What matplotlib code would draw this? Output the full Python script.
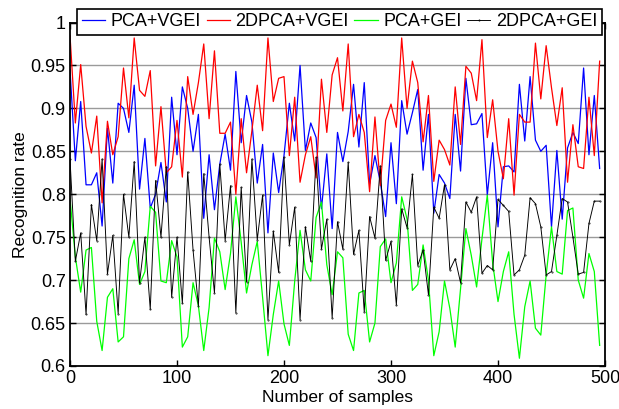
import numpy as np
import matplotlib
matplotlib.use("Agg")
import matplotlib.pyplot as plt
from matplotlib.ticker import FixedLocator

plt.rcParams['font.family'] = ['Liberation Sans', 'DejaVu Sans']

# Sample index (one test every 5 samples)
samples = list(range(0, 500, 5))

pca_vgei = [
    0.945, 0.839, 0.908, 0.811, 0.811, 0.825, 0.763, 0.877, 0.813, 0.906,
    0.900, 0.872, 0.927, 0.806, 0.865, 0.784, 0.800, 0.837, 0.791, 0.913,
    0.846, 0.925, 0.900, 0.850, 0.893, 0.772, 0.846, 0.782, 0.835, 0.870,
    0.828, 0.943, 0.860, 0.915, 0.884, 0.813, 0.858, 0.755, 0.848, 0.802,
    0.845, 0.906, 0.862, 0.950, 0.851, 0.883, 0.866, 0.783, 0.847, 0.760,
    0.872, 0.838, 0.873, 0.928, 0.855, 0.930, 0.812, 0.845, 0.814, 0.774,
    0.860, 0.789, 0.909, 0.870, 0.895, 0.922, 0.828, 0.893, 0.778, 0.823,
    0.813, 0.795, 0.893, 0.827, 0.935, 0.881, 0.882, 0.894, 0.799, 0.860,
    0.762, 0.832, 0.833, 0.826, 0.928, 0.862, 0.937, 0.863, 0.850, 0.857,
    0.762, 0.851, 0.771, 0.854, 0.872, 0.859, 0.947, 0.846, 0.915, 0.830,
]

dpca2_vgei = [
    0.985, 0.883, 0.951, 0.879, 0.848, 0.891, 0.790, 0.885, 0.846, 0.867,
    0.947, 0.889, 0.982, 0.921, 0.914, 0.944, 0.833, 0.902, 0.825, 0.832,
    0.886, 0.820, 0.937, 0.893, 0.930, 0.975, 0.888, 0.967, 0.871, 0.871,
    0.884, 0.800, 0.888, 0.825, 0.874, 0.927, 0.874, 0.982, 0.908, 0.935,
    0.937, 0.845, 0.913, 0.814, 0.846, 0.867, 0.819, 0.934, 0.872, 0.939,
    0.959, 0.897, 0.975, 0.867, 0.893, 0.872, 0.803, 0.890, 0.810, 0.886,
    0.905, 0.878, 0.982, 0.900, 0.955, 0.930, 0.861, 0.915, 0.815, 0.863,
    0.852, 0.834, 0.925, 0.858, 0.949, 0.941, 0.909, 0.980, 0.866, 0.910,
    0.850, 0.818, 0.888, 0.799, 0.893, 0.884, 0.884, 0.976, 0.911, 0.973,
    0.924, 0.880, 0.924, 0.814, 0.881, 0.832, 0.830, 0.913, 0.845, 0.955,
]

pca_gei = [
    0.795, 0.727, 0.686, 0.735, 0.738, 0.652, 0.618, 0.680, 0.690, 0.628,
    0.634, 0.725, 0.747, 0.695, 0.710, 0.786, 0.779, 0.699, 0.697, 0.746,
    0.727, 0.622, 0.634, 0.697, 0.670, 0.618, 0.668, 0.749, 0.733, 0.689,
    0.731, 0.797, 0.744, 0.685, 0.718, 0.745, 0.680, 0.612, 0.660, 0.699,
    0.649, 0.624, 0.699, 0.758, 0.712, 0.699, 0.773, 0.791, 0.718, 0.683,
    0.733, 0.726, 0.637, 0.618, 0.685, 0.688, 0.628, 0.650, 0.739, 0.748,
    0.697, 0.720, 0.797, 0.771, 0.688, 0.695, 0.741, 0.700, 0.612, 0.640,
    0.699, 0.667, 0.622, 0.690, 0.760, 0.729, 0.692, 0.748, 0.799, 0.720,
    0.675, 0.710, 0.733, 0.660, 0.609, 0.669, 0.699, 0.644, 0.636, 0.706,
    0.762, 0.710, 0.707, 0.781, 0.784, 0.700, 0.679, 0.731, 0.710, 0.624,
]

dpca2_gei = [
    0.841, 0.722, 0.755, 0.660, 0.788, 0.746, 0.841, 0.707, 0.752, 0.661,
    0.800, 0.750, 0.838, 0.697, 0.750, 0.666, 0.816, 0.750, 0.832, 0.680,
    0.750, 0.673, 0.826, 0.735, 0.670, 0.824, 0.750, 0.685, 0.835, 0.746,
    0.810, 0.662, 0.808, 0.698, 0.841, 0.747, 0.799, 0.654, 0.757, 0.709,
    0.843, 0.741, 0.785, 0.654, 0.762, 0.722, 0.843, 0.736, 0.771, 0.656,
    0.768, 0.736, 0.837, 0.730, 0.758, 0.663, 0.774, 0.749, 0.833, 0.723,
    0.745, 0.671, 0.783, 0.761, 0.823, 0.717, 0.735, 0.683, 0.785, 0.772,
    0.811, 0.712, 0.725, 0.697, 0.791, 0.779, 0.797, 0.708, 0.717, 0.712,
    0.794, 0.787, 0.780, 0.706, 0.712, 0.729, 0.796, 0.789, 0.762, 0.706,
    0.710, 0.752, 0.795, 0.791, 0.750, 0.707, 0.709, 0.766, 0.792, 0.792,
]

series_labels = ['PCA+VGEI', '2DPCA+VGEI', 'PCA+GEI', '2DPCA+GEI']
x_ticks = [0, 100, 200, 300, 400, 500]
y_ticks = [0.6, 0.65, 0.7, 0.75, 0.8, 0.85, 0.9, 0.95, 1.0]
y_tick_labels = ['0.6', '0.65', '0.7', '0.75', '0.8', '0.85', '0.9', '0.95', '1']

fig = plt.figure(figsize=(6.19, 4.09), dpi=100)
ax = fig.add_axes([70 / 619, 43 / 409, 535 / 619, 343.5 / 409])

lw = 0.9
ax.plot(samples, pca_vgei, color='#0000ff', lw=lw, label=series_labels[0])
ax.plot(samples, dpca2_vgei, color='#ff0000', lw=lw, label=series_labels[1])
ax.plot(samples, pca_gei, color='#00ff00', lw=lw, label=series_labels[2])
ax.plot(samples, dpca2_gei, color='black', lw=lw * 0.75, marker='.',
        markersize=0.8, label=series_labels[3])

ax.set_xlim(0, 500)
ax.set_ylim(0.6, 1.0)
ax.xaxis.set_major_locator(FixedLocator(x_ticks))
ax.set_xticklabels([str(t) for t in x_ticks])
ax.yaxis.set_major_locator(FixedLocator(y_ticks))
ax.set_yticklabels(y_tick_labels)

ax.yaxis.grid(True, color='#9a9a9a', lw=1.0)
ax.xaxis.grid(False)
ax.set_axisbelow(True)

ax.tick_params(direction='in', length=4, width=1.0, top=True, right=True,
               labelsize=13, pad=3, colors='black')
for sp in ax.spines.values():
    sp.set_linewidth(1.3)
    sp.set_color('black')

ax.set_xlabel('Number of samples', fontsize=12.5, labelpad=2)
ax.set_ylabel('Recognition rate', fontsize=12.5, labelpad=2)

leg = ax.legend(loc='upper center', bbox_to_anchor=(0.5037, 1.04), ncol=4,
                fontsize=13, frameon=True, fancybox=False, framealpha=1,
                edgecolor='black', borderaxespad=0, handlelength=1.3,
                handletextpad=0.3, columnspacing=0.3, borderpad=0.25)
leg.get_frame().set_linewidth(1.2)

fig.savefig('out.png', dpi=100)
